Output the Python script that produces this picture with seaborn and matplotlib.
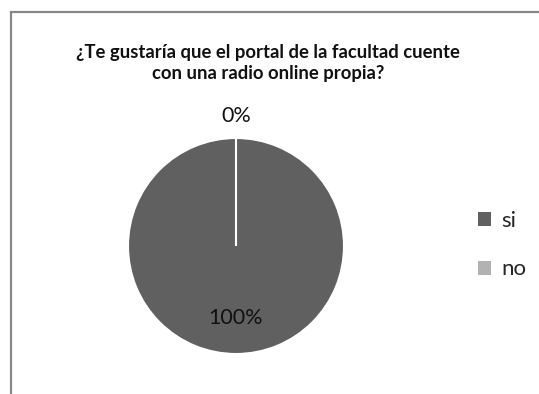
import numpy as np
import matplotlib
matplotlib.use("Agg")
import matplotlib.pyplot as plt
import seaborn as sns
from matplotlib.patches import Rectangle, Patch

categories = ["si", "no"]
values = [100, 0]
pct_labels = ["100%", "0%"]
title = "¿Te gustaría que el portal de la facultad cuente\ncon una radio online propia?"

sns.set_theme(style="white")
plt.rcParams['font.family'] = ['Lato', 'DejaVu Sans']
colors = ["#606060", "#b2b2b2"]

W, H = 539, 394
fig = plt.figure(figsize=(W / 100, H / 100), dpi=100)
fig.patch.set_facecolor("white")

# chart frame
fig.add_artist(Rectangle((11 / W, -0.05), 1.1, (H - 12) / H + 0.05, transform=fig.transFigure,
                         fill=False, edgecolor="#878787", linewidth=1.6))

cx, cy, r = 236, H - 246, 108
ax = fig.add_axes([(cx - r) / W, (cy - r) / H, 2 * r / W, 2 * r / H])
wedges, _ = ax.pie(values, colors=colors, startangle=90, counterclock=False,
                   radius=1, wedgeprops=dict(edgecolor="white", linewidth=1.5))
ax.set_xlim(-1, 1)
ax.set_ylim(-1, 1)
ax.set_aspect("equal")
ax.axis("off")

dist = [0.67, 1.2]
for w, lab, d in zip(wedges, pct_labels, dist):
    ang = np.deg2rad((w.theta1 + w.theta2) / 2)
    ax.text(d * np.cos(ang), d * np.sin(ang), lab, ha="center", va="center",
            fontsize=15.5, color="#111111", clip_on=False)

fig.text(268 / W, 1 - 63 / H, title, ha="center", va="center", fontsize=13.3,
         fontweight="bold", color="#111111", linespacing=1.35)

handles = [Patch(facecolor=c, edgecolor="none") for c in colors]
fig.legend(handles, categories, loc="center left", bbox_to_anchor=(458 / W, 1 - 245 / H),
           frameon=False, fontsize=16, handlelength=0.6, handleheight=0.6,
           handletextpad=0.45, labelspacing=1.3)

fig.savefig("out.png", dpi=100)
